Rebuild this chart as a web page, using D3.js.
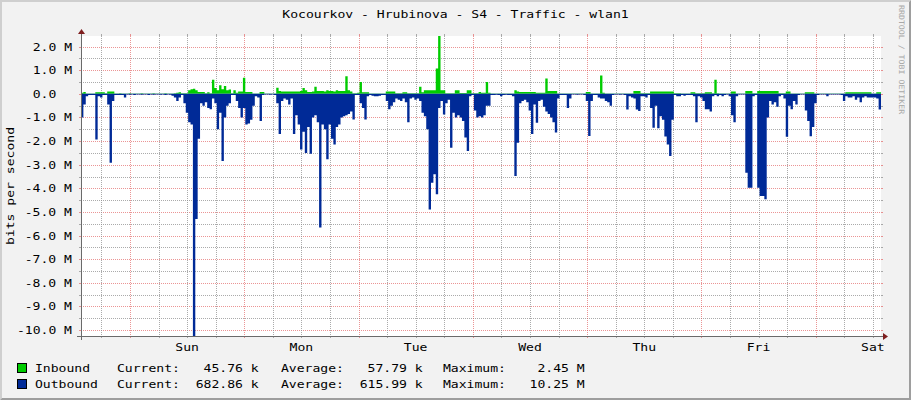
<!DOCTYPE html>
<html><head><meta charset="utf-8">
<script src="https://cdn.jsdelivr.net/npm/d3@7"></script>
<style>
html,body{margin:0;padding:0;background:#f2f2f2;}
svg{display:block;}
text{font-family:"DejaVu Sans Mono",monospace;white-space:pre;}
</style></head><body>
<svg id="c" width="911" height="400"></svg>
<script>
// ---------- data ----------
const chartTitle = "Kocourkov - Hrubinova - S4 - Traffic - wlan1";
const yAxisTitle = "bits per second";
const watermark = "RRDTOOL / TOBI OETIKER";
const seriesNames = ["Inbound", "Outbound"];
const seriesColors = ["#00CC00", "#002A97"];
const startTime = "2024-01-06T13:43:00Z";   // one week window, 30-minute steps
const stepMinutes = 30;
const yTickValues = [-10,-9,-8,-7,-6,-5,-4,-3,-2,-1,0,1,2];
const yTickLabels = ["-10.0 M","-9.0 M","-8.0 M","-7.0 M","-6.0 M","-5.0 M","-4.0 M","-3.0 M","-2.0 M","-1.0 M","0.0  ","1.0 M","2.0 M"];
const legendCurrent = ["Current:   45.76 k", "Current:  682.86 k"];
const legendAverage = ["Average:   57.79 k", "Average:  615.99 k"];
const legendMaximum = ["Maximum:    2.45 M", "Maximum:   10.25 M"];

// Inbound, Mbit/s, one value per 30 minutes (7 rows = 7 x 24h)
const inbound = [
0.05,0.08,0.02,0.02,0.02,0.02,0.07,0.07,0.07,0.07,0.03,0.1,0.1,0.1,0.02,0.02,0.03,0.02,0.02,0.02,0.03,0.02,0.02,0.02,0.02,0.03,0.02,0.02,0.02,0.02,0.03,0.02,0.02,0.02,0.02,0.03,0.02,0.02,0.02,0.03,0.05,0.07,0.03,0.03,0.03,0.15,0.2,0.22,
0.15,0.08,0.08,0.08,0.03,0.07,0.03,0.6,0.25,0.15,0.36,0.2,0.33,0.15,0.18,0.03,0.15,0.05,0.1,0.1,0.68,0.08,0.08,0.08,0.02,0.02,0.02,0.08,0.08,0.02,0.02,0.02,0.02,0.02,0.26,0.12,0.1,0.1,0.1,0.1,0.1,0.1,0.1,0.1,0.12,0.25,0.15,0.08,
0.08,0.1,0.3,0.12,0.12,0.12,0.1,0.15,0.12,0.12,0.1,0.15,0.12,0.12,0.12,0.75,0.15,0.1,0.03,0.03,0.05,0.5,0.07,0.07,0.07,0.02,0.02,0.02,0.02,0.02,0.02,0.02,0.1,0.1,0.1,0.1,0.03,0.03,0.03,0.07,0.07,0.03,0.03,0.03,0.03,0.03,0.3,0.07,
0.15,0.15,0.15,0.15,0.15,1.07,2.45,0.15,0.15,0.03,0.03,0.03,0.03,0.15,0.15,0.04,0.04,0.04,0.15,0.15,0.03,0.03,0.03,0.08,0.05,0.05,0.5,0.05,0.02,0.02,0.02,0.02,0.02,0.02,0.02,0.02,0.02,0.02,0.15,0.1,0.08,0.08,0.08,0.08,0.08,0.08,0.08,0.05,
0.05,0.05,0.05,0.65,0.12,0.12,0.12,0.12,0.02,0.02,0.02,0.02,0.02,0.02,0.02,0.02,0.02,0.02,0.02,0.02,0.08,0.08,0.02,0.02,0.02,0.02,0.78,0.05,0.02,0.02,0.02,0.02,0.02,0.02,0.02,0.02,0.02,0.02,0.02,0.02,0.12,0.12,0.12,0.03,0.03,0.03,0.03,0.1,
0.1,0.1,0.1,0.1,0.1,0.1,0.1,0.1,0.1,0.03,0.03,0.03,0.02,0.02,0.02,0.02,0.07,0.07,0.03,0.03,0.03,0.03,0.07,0.07,0.07,0.03,0.6,0.03,0.02,0.02,0.02,0.02,0.02,0.1,0.1,0.02,0.02,0.02,0.02,0.12,0.12,0.12,0.03,0.03,0.12,0.12,0.12,0.12,
0.12,0.12,0.12,0.12,0.12,0.03,0.03,0.03,0.1,0.1,0.02,0.02,0.02,0.02,0.02,0.02,0.07,0.07,0.07,0.07,0.02,0.02,0.02,0.02,0.02,0.02,0.02,0.02,0.02,0.02,0.02,0.02,0.02,0.07,0.07,0.07,0.07,0.07,0.07,0.07,0.07,0.07,0.07,0.07,0.02,0.02,0.07,0.07
];
// Outbound, Mbit/s (drawn below zero)
const outbound = [
1.0,0.45,0.1,0.05,0.05,0.05,1.93,0.1,0.15,0.05,0.05,0.45,2.92,0.3,0.05,0.05,0.05,0.05,0.15,0.03,0.04,0.03,0.05,0.03,0.03,0.04,0.03,0.03,0.05,0.03,0.04,0.03,0.03,0.04,0.03,0.05,0.03,0.04,0.08,0.15,0.3,0.15,0.05,0.4,0.8,1.2,1.3,10.25,
5.3,1.9,0.4,0.5,0.35,0.6,0.65,0.2,0.4,1.5,0.8,2.84,1.0,0.5,0.4,0.05,0.05,0.3,0.6,1.0,0.6,1.3,1.25,1.1,0.5,0.1,0.15,1.15,0.05,0.03,0.03,0.04,0.03,0.05,0.4,1.7,0.3,0.2,0.25,0.45,0.2,1.7,0.9,1.3,2.35,1.6,2.5,1.4,
2.53,1.0,0.9,1.2,5.66,1.3,1.5,2.77,1.3,1.9,2.14,1.4,1.3,1.0,0.95,0.9,0.85,0.75,1.08,0.05,0.05,0.4,0.6,1.08,0.1,0.05,0.08,0.1,0.1,0.08,0.05,0.05,0.3,0.65,0.5,0.35,0.2,0.25,0.3,0.2,0.35,1.2,0.2,0.15,0.25,0.2,0.3,0.8,
0.95,1.5,4.9,3.76,3.4,4.25,0.6,0.3,0.87,0.4,0.25,2.28,0.8,1.0,0.9,1.0,1.15,1.85,2.42,0.1,0.05,0.7,1.0,0.95,1.0,0.9,0.5,0.5,0.05,0.05,0.04,0.05,0.1,0.05,0.04,0.05,0.05,0.1,3.48,2.07,0.4,0.3,0.25,0.35,0.7,1.7,0.45,1.22,
0.3,0.25,0.55,0.75,0.85,1.0,1.2,1.64,0.2,0.05,0.05,0.05,0.6,0.2,0.03,0.03,0.04,0.03,0.03,0.05,0.3,1.78,0.3,0.05,0.05,0.15,0.2,0.2,0.3,0.35,0.5,0.05,0.03,0.03,0.04,0.03,0.05,0.66,0.1,0.15,0.2,0.66,0.73,0.1,0.1,0.15,0.05,0.6,
1.43,0.5,1.45,0.95,1.1,1.8,2.14,2.63,1.1,0.05,0.1,0.1,0.05,0.08,0.05,0.05,0.05,0.1,1.2,0.1,0.15,0.3,0.65,0.65,0.75,0.1,0.05,0.1,0.05,0.1,0.05,0.03,0.1,0.9,1.2,0.1,0.03,0.03,0.03,3.34,3.97,3.97,0.1,0.05,3.97,4.32,4.32,4.46,
1.0,0.3,0.45,0.35,0.55,0.1,0.05,0.2,1.81,0.5,0.65,0.3,0.45,0.05,0.03,0.03,0.7,1.15,1.79,1.4,0.4,0.05,0.03,0.03,0.03,0.1,0.03,0.03,0.03,0.03,0.03,0.05,0.3,0.1,0.15,0.15,0.1,0.25,0.15,0.35,0.15,0.1,0.15,0.15,0.15,0.15,0.2,0.66
];

// ---------- layout ----------
const W = 911, H = 400;
const X0 = 81, XN = 881, Y0 = 336, YN = 36;
const SX = 1.19;           // horizontal stretch of the monospace glyphs
const FS = 11;

const svg = d3.select("#c");
const t0 = new Date(startTime);
const t1 = d3.utcDay.offset(t0, 7);
const x = d3.scaleUtc().domain([t0, t1]).range([X0, XN]);
const y = d3.scaleLinear().domain([-10.25, 2.45]).range([Y0, YN]);

function txt(parent, px, py, s, o = {}) {
  const rot = o.rotate ? ` rotate(${o.rotate})` : "";
  return parent.append("text")
    .attr("transform", `translate(${px},${py})${rot} scale(${o.sx || SX},1)`)
    .attr("text-anchor", o.anchor || "start")
    .attr("font-size", o.size || FS)
    .attr("fill", o.fill || "#000")
    .text(s);
}

// background + 3d border
svg.append("rect").attr("width", W).attr("height", H).attr("fill", "#f2f2f2");
svg.append("polygon").attr("points", `0,${H} 2,${H-2} 2,2 ${W-2},2 ${W},0 0,0`).attr("fill", "#cfcfcf");
svg.append("polygon").attr("points", `2,${H-2} ${W-2},${H-2} ${W-2},2 ${W},0 ${W},${H} 0,${H}`).attr("fill", "#9e9e9e");

// canvas
svg.append("rect").attr("x", X0).attr("y", YN).attr("width", XN - X0).attr("height", Y0 - YN).attr("fill", "#fff");

const grid = svg.append("g");
const minorCol = "rgba(143,143,143,0.75)", majorCol = "rgba(222,79,79,0.6)";

// horizontal grid
const halfSteps = d3.range(-20, 5).map(k => k / 2).filter(v => y(v) <= Y0 && y(v) >= YN);
halfSteps.forEach(v => {
  const major = Number.isInteger(v);
  const col = major ? majorCol : minorCol;
  const py = Math.round(y(v)) + 0.5;
  grid.append("line").attr("x1", X0).attr("x2", XN).attr("y1", py).attr("y2", py)
    .attr("stroke", col).attr("stroke-dasharray", "1,1");
  grid.append("line").attr("x1", X0 - 2).attr("x2", X0).attr("y1", py).attr("y2", py).attr("stroke", col);
  grid.append("line").attr("x1", XN).attr("x2", XN + 2).attr("y1", py).attr("y2", py).attr("stroke", col);
});

// vertical grid
const days = d3.utcDay.range(t0, t1);
const sixH = d3.utcHour.every(6).range(t0, t1).filter(d => d.getUTCHours() !== 0);
function vline(d, col) {
  const px = Math.round(x(d)) + 0.5;
  grid.append("line").attr("x1", px).attr("x2", px).attr("y1", YN).attr("y2", Y0)
    .attr("stroke", col).attr("stroke-dasharray", "1,1");
  grid.append("line").attr("x1", px).attr("x2", px).attr("y1", YN - 2).attr("y2", YN).attr("stroke", col);
  grid.append("line").attr("x1", px).attr("x2", px).attr("y1", Y0).attr("y2", Y0 + 2).attr("stroke", col);
}
sixH.forEach(d => vline(d, minorCol));
days.forEach(d => vline(d, majorCol));

// data areas
const stepMs = stepMinutes * 60000;
function series(vals, sign) {
  const pts = vals.map((v, i) => ({ t: new Date(+t0 + i * stepMs), v: sign * v }));
  pts.push({ t: t1, v: sign * vals[vals.length - 1] });
  return pts;
}
const area = d3.area().x(d => x(d.t)).y0(y(0)).y1(d => y(d.v)).curve(d3.curveStepAfter);
svg.append("path").datum(series(inbound, 1)).attr("d", area).attr("fill", seriesColors[0]);
svg.append("path").datum(series(outbound, -1)).attr("d", area).attr("fill", seriesColors[1]);

// axes
const axisCol = "#6a6a6a", arrowCol = "#7f1f1f";
svg.append("line").attr("x1", X0 - 4).attr("x2", XN + 4).attr("y1", Y0 + 0.5).attr("y2", Y0 + 0.5).attr("stroke", axisCol);
svg.append("line").attr("x1", X0 + 0.5).attr("x2", X0 + 0.5).attr("y1", Y0 + 4).attr("y2", YN - 4).attr("stroke", axisCol);
svg.append("polygon").attr("points", `${XN+2},${Y0-3} ${XN+2},${Y0+4} ${XN+7},${Y0+0.5}`).attr("fill", arrowCol);
svg.append("polygon").attr("points", `${X0-3},${YN-2} ${X0+4},${YN-2} ${X0+0.5},${YN-7}`).attr("fill", arrowCol);

// y tick labels
yTickValues.forEach((v, i) => txt(svg, 72, y(v) + 4, yTickLabels[i], { anchor: "end" }));

// x labels (day names at noon)
const fmtDay = d3.utcFormat("%a");
d3.utcDay.range(d3.utcDay.offset(t0, -1), t1).map(d => d3.utcHour.offset(d, 12))
  .filter(d => d >= t0 && d <= t1)
  .forEach(d => txt(svg, x(d), 351, fmtDay(d), { anchor: "middle" }));

// titles
txt(svg, W / 2, 18, chartTitle, { anchor: "middle" });
txt(svg, 14, (Y0 + YN) / 2, yAxisTitle, { anchor: "middle", rotate: -90 });
txt(svg, 899, 5, watermark, { rotate: 90, size: 7.5, sx: 1.1, fill: "#a8a8a8" });

// legend
[0, 1].forEach(i => {
  const by = 372 + i * 16;
  svg.append("rect").attr("x", 17.5).attr("y", by - 8.5).attr("width", 9).attr("height", 9)
    .attr("fill", seriesColors[i]).attr("stroke", "#000");
  txt(svg, 35, by, seriesNames[i]);
  txt(svg, 117, by, legendCurrent[i]);
  txt(svg, 281, by, legendAverage[i]);
  txt(svg, 443, by, legendMaximum[i]);
});
</script>
</body></html>
